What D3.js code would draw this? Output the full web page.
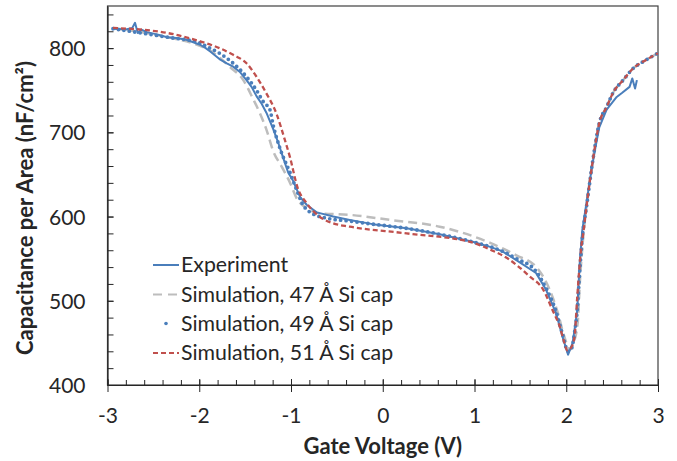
<!DOCTYPE html>
<html><head><meta charset="utf-8">
<script src="https://cdn.jsdelivr.net/npm/d3@7"></script>
<style>body{margin:0;background:#fff}svg{display:block}text{font-family:Lato,"Open Sans",sans-serif}</style>
</head><body><svg id="c" width="677" height="461"></svg>
<script>
// ---- data ----
const xTicks = [-3,-2,-1,0,1,2,3];
const yTicks = [400,500,600,700,800];
const seriesNames = ["Experiment","Simulation, 47 Å Si cap","Simulation, 49 Å Si cap","Simulation, 51 Å Si cap"];
const expV = [-2.94,-2.80,-2.73,-2.70,-2.67,-2.63,-2.57,-2.45,-2.35,-2.25,-2.14,-1.99,-1.93,-1.88,-1.78,-1.70,-1.63,-1.56,-1.485,-1.43,-1.376,-1.32,-1.267,-1.195,-1.14,-1.086,-1.03,-0.98,-0.90,-0.83,-0.72,-0.54,-0.36,-0.11,0.26,0.62,0.98,1.17,1.30,1.46,1.67,1.78,1.89,1.96,2.02,2.07,2.12,2.146,2.175,2.22,2.28,2.33,2.36,2.44,2.55,2.61,2.69,2.72,2.75,2.77];
const expC = [823,822,824,830,818,822,819,816,813,812,810,804,800,796,787,782,778,772,762,754,743,734,723,704,688,670,652,643,623,614,605,600,596,591,586,579,570,564,559,548,533,513,485,457,436,450,489,544,584,616,659,689,706,727,742,747,754,764,752,762];
const sim47V = [-2.94,-2.35,-2.0,-1.88,-1.77,-1.67,-1.52,-1.41,-1.34,-1.267,-1.195,-1.10,-1.01,-0.94,-0.83,-0.69,-0.36,0.08,0.62,1.166,1.456,1.674,1.82,1.91,1.98,2.04,2.08,2.125,2.15,2.18,2.22,2.29,2.36,2.44,2.51,2.62,2.73,2.84,3.0];
const sim47C = [824,813,803,797,788,778,762,739,723,703,678,659,640,622,610,604,602,596,588,569,554,540,513,485,457,442,450,474,525,569,612,667,711,730,747,762,776,784,794];
const sim49V = [-2.94,-2.35,-1.99,-1.92,-1.78,-1.63,-1.485,-1.376,-1.30,-1.23,-1.195,-1.12,-1.01,-0.94,-0.88,-0.79,-0.61,-0.39,-0.11,0.26,0.62,0.98,1.30,1.46,1.67,1.78,1.89,1.96,2.02,2.06,2.09,2.12,2.15,2.18,2.22,2.29,2.36,2.44,2.51,2.62,2.73,2.84,3.0];
const sim49C = [823,813,806,802,794,782,766,750,736,727,709,681,652,632,616,605,598,595,591,586,579,570,559,550,535,515,487,460,440,444,462,489,540,580,611,667,711,730,747,762,776,784,794];
const sim51V = [-2.94,-2.35,-1.99,-1.78,-1.63,-1.485,-1.376,-1.267,-1.158,-1.067,-1.01,-0.93,-0.83,-0.69,-0.54,-0.36,0.26,0.98,1.165,1.35,1.60,1.75,1.85,1.93,1.98,2.01,2.05,2.09,2.12,2.16,2.19,2.22,2.29,2.36,2.44,2.51,2.62,2.73,2.84,3.0];
const sim51C = [824,818,808,800,792,782,766,746,722,691,670,635,616,600,592,588,580,569,561,551,529,513,489,469,450,441,444,457,505,560,584,611,667,711,730,747,762,776,784,794];

// ---- chart ----
const svg = d3.select("#c");
const L=107.5, R=658, T=6, B=385;
const x = d3.scaleLinear().domain([-3,3]).range([L,R]);
const y = d3.scaleLinear().domain([400,850]).range([B,T]);
const ink = "#262626";
const fmt = d => String(d);

svg.append("rect").attr("x",L).attr("y",T).attr("width",R-L).attr("height",B-T)
  .attr("fill","none").attr("stroke","#404040").attr("stroke-width",1.2);

const gx = svg.append("g").attr("transform",`translate(0,${B})`);
gx.call(d3.axisBottom(x).tickValues(d3.range(-3,3.001,0.2)).tickSize(-5).tickFormat(""))
  .call(g=>g.select(".domain").remove());
gx.selectAll(".tick line").attr("stroke",ink);
const gx2 = svg.append("g").attr("transform",`translate(0,${B})`);
gx2.call(d3.axisBottom(x).tickValues(xTicks).tickSizeInner(7).tickSizeOuter(0).tickFormat(fmt));
gx2.selectAll(".tick line").attr("stroke",ink).attr("y1",-6);
gx2.select(".domain").attr("stroke",ink).attr("stroke-width",1.2);
gx2.selectAll("text").attr("fill",ink).attr("y",38).attr("dy",null).style("font-size","21px");

const gy = svg.append("g").attr("transform",`translate(${L},0)`);
gy.call(d3.axisLeft(y).tickValues(d3.range(400,851,20)).tickSize(-6).tickFormat(""))
  .call(g=>g.select(".domain").remove());
gy.selectAll(".tick line").attr("stroke",ink);
const gy2 = svg.append("g").attr("transform",`translate(${L},0)`);
gy2.call(d3.axisLeft(y).tickValues(yTicks).tickSizeInner(7).tickSizeOuter(0).tickFormat(fmt));
gy2.selectAll(".tick line").attr("stroke",ink).attr("x2",6);
gy2.select(".domain").attr("stroke",ink).attr("stroke-width",1.2);
gy2.selectAll("text").attr("fill",ink).attr("x",-22).attr("dy","0.36em").style("font-size","21px");

svg.append("text").attr("x",(L+R)/2).attr("y",454).attr("text-anchor","middle")
  .attr("fill",ink).style("font-weight","bold").style("font-size","22px").text("Gate Voltage (V)");
svg.append("text").attr("transform","translate(33,208) rotate(-90)").attr("text-anchor","middle")
  .attr("fill",ink).style("font-weight","bold").style("font-size","22px")
  .text("Capacitance per Area (nF/cm²)");

const mk = (V,C)=>V.map((v,i)=>[v,C[i]]);
const line = d3.line().x(d=>x(d[0])).y(d=>y(d[1])).curve(d3.curveMonotoneX);
const lineLin = d3.line().x(d=>x(d[0])).y(d=>y(d[1]));

svg.append("path").datum(mk(sim47V,sim47C)).attr("d",line).attr("fill","none")
  .attr("stroke","#bdbdbd").attr("stroke-width",2.5).attr("stroke-dasharray","9,5");
svg.append("path").datum(mk(expV,expC)).attr("d",lineLin).attr("fill","none")
  .attr("stroke","#4a7ebb").attr("stroke-width",2).attr("stroke-linejoin","round");
svg.append("path").datum(mk(sim49V,sim49C)).attr("d",line).attr("fill","none")
  .attr("stroke","#4a7ebb").attr("stroke-width",3.8).attr("stroke-linecap","round").attr("stroke-dasharray","0,5.5");
svg.append("path").datum(mk(sim51V,sim51C)).attr("d",line).attr("fill","none")
  .attr("stroke","#c0504d").attr("stroke-width",2.3).attr("stroke-dasharray","5,3");

// legend
const legY = [265,294.5,323.5,353];
const lg = svg.append("g");
const lx0=153, lx1=179;
lg.append("line").attr("x1",lx0).attr("x2",lx1).attr("y1",legY[0]).attr("y2",legY[0]).attr("stroke","#4a7ebb").attr("stroke-width",2);
lg.append("line").attr("x1",lx0).attr("x2",lx1).attr("y1",legY[1]).attr("y2",legY[1]).attr("stroke","#bdbdbd").attr("stroke-width",2.2).attr("stroke-dasharray","9,6");
lg.append("circle").attr("cx",166).attr("cy",legY[2]).attr("r",1.8).attr("fill","#4a7ebb");
lg.append("line").attr("x1",lx0).attr("x2",lx1).attr("y1",legY[3]).attr("y2",legY[3]).attr("stroke","#c0504d").attr("stroke-width",2).attr("stroke-dasharray","5,3");
seriesNames.forEach((n,i)=>{
  lg.append("text").attr("x",181).attr("y",legY[i]+7).attr("fill",ink)
    .style("font-size","21.3px").text(n);
});
</script></body></html>
